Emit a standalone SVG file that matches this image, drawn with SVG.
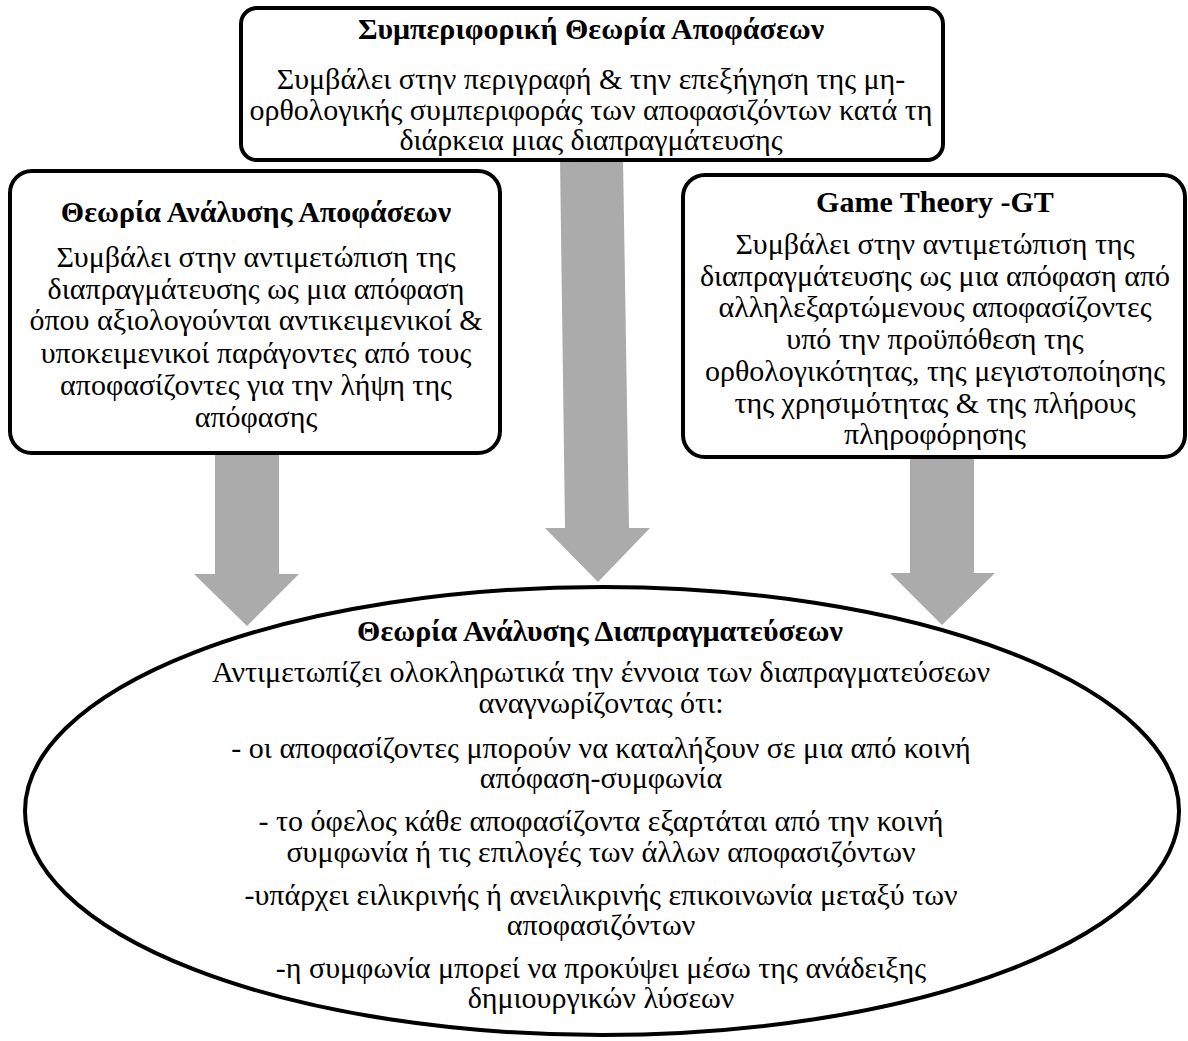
<svg xmlns="http://www.w3.org/2000/svg" width="1188" height="1041" viewBox="0 0 1188 1041">
<style>
.box{fill:#fff;stroke:#000;stroke-width:4}
.arr{fill:#ababab;stroke:none}
text{font-family:"Liberation Serif","Times New Roman",serif;fill:#000;text-anchor:middle;font-size:30px}
.t{font-weight:bold}
</style>
<rect width="1188" height="1041" fill="#fff"/>
<g id="node-negotiation">
<ellipse class="box" cx="602" cy="811" rx="577" ry="224"/>
<text class="t" x="600" y="641">Θεωρία Ανάλυσης Διαπραγματεύσεων</text>
<text x="601" y="682">Αντιμετωπίζει ολοκληρωτικά την έννοια των διαπραγματεύσεων</text>
<text x="601" y="713">αναγνωρίζοντας ότι:</text>
<text x="601" y="758">- οι αποφασίζοντες μπορούν να καταλήξουν σε μια από κοινή</text>
<text x="601" y="788">απόφαση-συμφωνία</text>
<text x="601" y="831">- το όφελος κάθε αποφασίζοντα εξαρτάται από την κοινή</text>
<text x="601" y="862">συμφωνία ή τις επιλογές των άλλων αποφασιζόντων</text>
<text x="601" y="905">-υπάρχει ειλικρινής ή ανειλικρινής επικοινωνία μεταξύ των</text>
<text x="601" y="935">αποφασιζόντων</text>
<text x="601" y="978">-η συμφωνία μπορεί να προκύψει μέσω της ανάδειξης</text>
<text x="601" y="1008">δημιουργικών λύσεων</text>
</g>
<g id="connectors">
<polygon class="arr" points="215,450 279,450 279,574 299,574 247,626 194,574 215,574"/>
<polygon class="arr" points="560,158 623,158 629,528 650,528 598,582 545,528 565,528"/>
<polygon class="arr" points="910,455 974,455 974,573 995,573 942,625 890,573 910,573"/>
</g>
<g id="node-behavioral">
<rect class="box" x="241" y="8" width="702" height="152" rx="16"/>
<text class="t" x="591" y="39">Συμπεριφορική Θεωρία Αποφάσεων</text>
<text x="591" y="89">Συμβάλει στην περιγραφή &amp; την επεξήγηση της μη-</text>
<text x="591" y="120">ορθολογικής συμπεριφοράς των αποφασιζόντων κατά τη</text>
<text x="591" y="150">διάρκεια μιας διαπραγμάτευσης</text>
</g>
<g id="node-decision">
<rect class="box" x="10" y="171" width="490" height="282" rx="22"/>
<text class="t" x="256" y="222">Θεωρία Ανάλυσης Αποφάσεων</text>
<text x="256" y="267">Συμβάλει στην αντιμετώπιση της</text>
<text x="256" y="299">διαπραγμάτευσης ως μια απόφαση</text>
<text x="256" y="330">όπου αξιολογούνται αντικειμενικοί &amp;</text>
<text x="256" y="363">υποκειμενικοί παράγοντες από τους</text>
<text x="256" y="395">αποφασίζοντες για την λήψη της</text>
<text x="256" y="427">απόφασης</text>
</g>
<g id="node-game">
<rect class="box" x="683" y="175" width="502" height="282" rx="22"/>
<text class="t" x="935" y="212">Game Theory -GT</text>
<text x="935" y="254">Συμβάλει στην αντιμετώπιση της</text>
<text x="935" y="286">διαπραγμάτευσης ως μια απόφαση από</text>
<text x="935" y="317">αλληλεξαρτώμενους αποφασίζοντες</text>
<text x="935" y="349">υπό την προϋπόθεση της</text>
<text x="935" y="381">ορθολογικότητας, της μεγιστοποίησης</text>
<text x="935" y="413">της χρησιμότητας &amp; της πλήρους</text>
<text x="935" y="444">πληροφόρησης</text>
</g>
</svg>
